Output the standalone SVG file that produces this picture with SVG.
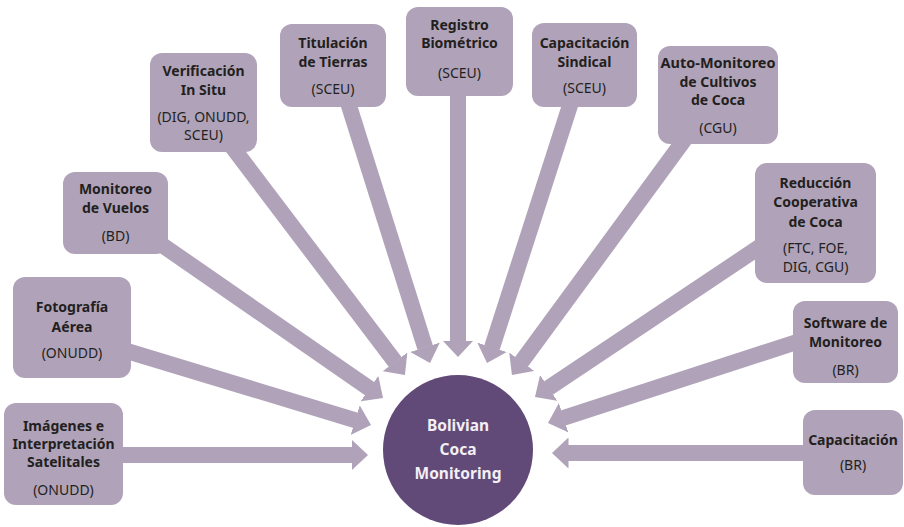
<svg xmlns="http://www.w3.org/2000/svg" width="904" height="527" viewBox="0 0 904 527">
<style>
.box{fill:#b0a3b9}
.t{font-family:"Noto Sans","Open Sans","DejaVu Sans",sans-serif;font-size:14px;fill:#231f20;text-anchor:middle}
.b{font-weight:bold}
.c{font-family:"Noto Sans","Open Sans","DejaVu Sans",sans-serif;font-size:15.5px;font-weight:bold;fill:#f3eff5;text-anchor:middle}
.con line{stroke:#b0a3b9;stroke-width:16;marker-end:url(#ah)}
</style>
<defs>
<marker id="ah" markerUnits="userSpaceOnUse" markerWidth="17" markerHeight="31" viewBox="0 0 17 31" refX="0.5" refY="15.5" orient="auto">
<path d="M0,0 L16.5,15.5 L0,31 z" fill="#b0a3b9"/>
</marker>
</defs>
<rect width="904" height="527" fill="#ffffff"/>
<g id="connectors" class="con">
<line x1="110" y1="455" x2="352" y2="455"/>
<line x1="117" y1="348" x2="355.7" y2="420.3"/>
<line x1="152" y1="238" x2="369.9" y2="388.9"/>
<line x1="227" y1="140" x2="395.3" y2="362.2"/>
<line x1="345" y1="93" x2="425.2" y2="347.7"/>
<line x1="458" y1="85" x2="458" y2="341"/>
<line x1="574" y1="93" x2="491.9" y2="347.8"/>
<line x1="690" y1="132" x2="521.4" y2="362.1"/>
<line x1="767" y1="242" x2="548.3" y2="388.1"/>
<line x1="806" y1="339" x2="563.2" y2="418"/>
<line x1="815" y1="453" x2="568" y2="453"/>
</g>
<g id="n1">
<rect class="box" x="4" y="403" width="119" height="102" rx="12"/>
<text class="t b" x="63.5" y="431">Imágenes e</text>
<text class="t b" x="63.5" y="449">Interpretación</text>
<text class="t b" x="63.5" y="467">Satelitales</text>
<text class="t" x="63.5" y="495">(ONUDD)</text>
</g>
<g id="n2">
<rect class="box" x="13" y="277" width="118" height="101" rx="12"/>
<text class="t b" x="72" y="312">Fotografía</text>
<text class="t b" x="72" y="332">Aérea</text>
<text class="t" x="72" y="358">(ONUDD)</text>
</g>
<g id="n3">
<rect class="box" x="63" y="172" width="105" height="82" rx="12"/>
<text class="t b" x="115.5" y="194">Monitoreo</text>
<text class="t b" x="115.5" y="213">de Vuelos</text>
<text class="t" x="115.5" y="241">(BD)</text>
</g>
<g id="n4">
<rect class="box" x="150" y="53" width="107" height="99" rx="12"/>
<text class="t b" x="203.5" y="76">Verificación</text>
<text class="t b" x="203.5" y="95">In Situ</text>
<text class="t" x="203.5" y="122">(DIG, ONUDD,</text>
<text class="t" x="203.5" y="140">SCEU)</text>
</g>
<g id="n5">
<rect class="box" x="280" y="24" width="106" height="83" rx="12"/>
<text class="t b" x="333" y="48">Titulación</text>
<text class="t b" x="333" y="67">de Tierras</text>
<text class="t" x="333" y="94">(SCEU)</text>
</g>
<g id="n6">
<rect class="box" x="406" y="7" width="107" height="89" rx="12"/>
<text class="t b" x="459.5" y="30">Registro</text>
<text class="t b" x="459.5" y="48">Biométrico</text>
<text class="t" x="459.5" y="78">(SCEU)</text>
</g>
<g id="n7">
<rect class="box" x="532" y="23" width="105" height="84" rx="12"/>
<text class="t b" x="584.5" y="48">Capacitación</text>
<text class="t b" x="584.5" y="67">Sindical</text>
<text class="t" x="584.5" y="93">(SCEU)</text>
</g>
<g id="n8">
<rect class="box" x="658" y="46" width="120" height="98" rx="12"/>
<text class="t b" x="718" y="68" textLength="115" lengthAdjust="spacingAndGlyphs">Auto-Monitoreo</text>
<text class="t b" x="718" y="87">de Cultivos</text>
<text class="t b" x="718" y="105">de Coca</text>
<text class="t" x="718" y="133">(CGU)</text>
</g>
<g id="n9">
<rect class="box" x="755" y="163" width="121" height="120" rx="12"/>
<text class="t b" x="815.5" y="188">Reducción</text>
<text class="t b" x="815.5" y="207">Cooperativa</text>
<text class="t b" x="815.5" y="227">de Coca</text>
<text class="t" x="815.5" y="253">(FTC, FOE,</text>
<text class="t" x="815.5" y="272">DIG, CGU)</text>
</g>
<g id="n10">
<rect class="box" x="793" y="301" width="105" height="82" rx="12"/>
<text class="t b" x="845.5" y="328">Software de</text>
<text class="t b" x="845.5" y="347">Monitoreo</text>
<text class="t" x="845.5" y="375">(BR)</text>
</g>
<g id="n11">
<rect class="box" x="803" y="410" width="100" height="85" rx="12"/>
<text class="t b" x="853" y="445">Capacitación</text>
<text class="t" x="853" y="470">(BR)</text>
</g>
<g id="center">
<circle cx="458" cy="450" r="75" fill="#614a78"/>
<text class="c" x="458" y="431">Bolivian</text>
<text class="c" x="458" y="455">Coca</text>
<text class="c" x="458" y="479">Monitoring</text>
</g>
</svg>
